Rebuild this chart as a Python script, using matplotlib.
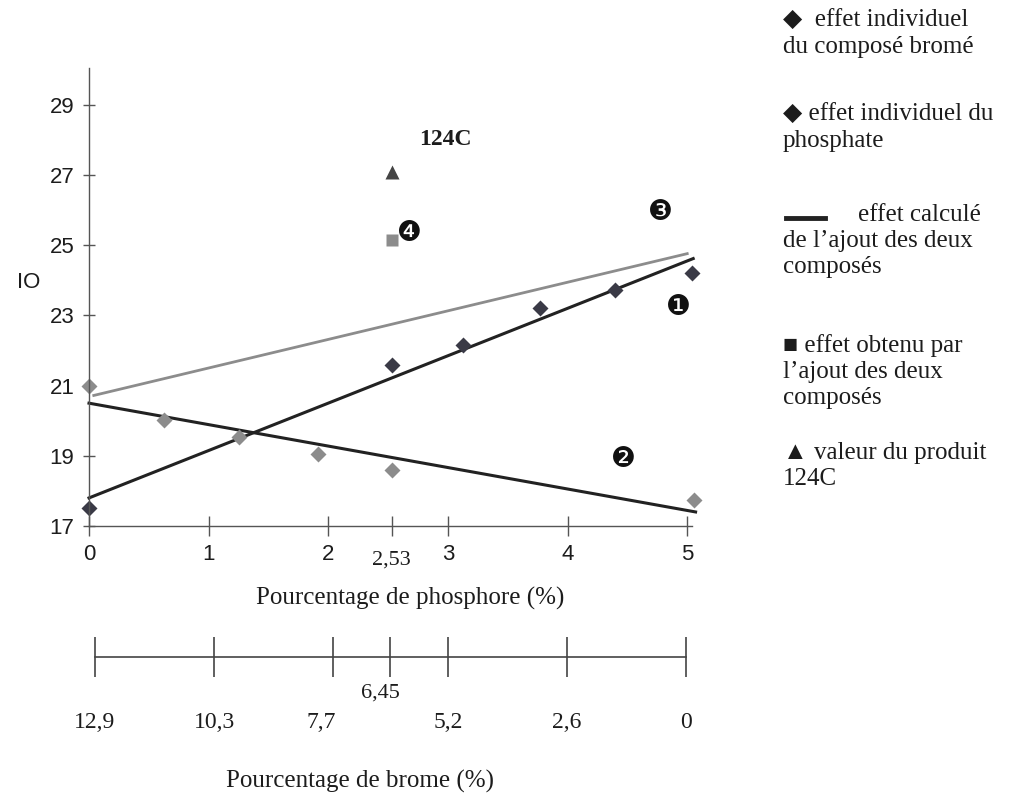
import matplotlib
matplotlib.use('Agg')
import matplotlib.pyplot as plt
from matplotlib.transforms import ScaledTranslation
from matplotlib.lines import Line2D

# effet individuel du compose brome (losanges fonces)
brome_x = [0, 2.53, 3.13, 3.77, 4.4, 5.04]
brome_y = [17.5, 21.6, 22.15, 23.2, 23.72, 24.22]
# effet individuel du phosphate (losanges clairs)
phos_x = [0, 0.63, 1.25, 1.91, 2.53, 5.06]
phos_y = [20.98, 20.03, 19.54, 19.06, 18.6, 17.75]
# droites de tendance
line_up_x = [0, 5.05]
line_up_y = [17.8, 24.62]
line_down_x = [0, 5.07]
line_down_y = [20.5, 17.4]
calc_x = [0.04, 5.0]
calc_y = [20.72, 24.76]
# effet obtenu / produit 124C
obtenu_x = [2.53]
obtenu_y = [25.14]
prod_x = [2.53]
prod_y = [27.1]
# reperes numerotes
num_labels = ['\u2776', '\u2777', '\u2778', '\u2779']
num_x = [4.93, 4.47, 4.78, 2.68]
num_y = [23.24, 18.9, 25.96, 25.34]

xticks = [0, 1, 2, 2.53, 3, 4, 5]
xticklabels = ['0', '1', '2', '2,53', '3', '4', '5']
yticks = [17, 19, 21, 23, 25, 27, 29]
brome_ticks = [12.9, 10.3, 7.7, 6.45, 5.2, 2.6, 0]
brome_labels = ['12,9', '10,3', '7,7', '6,45', '5,2', '2,6', '0']

W, H = 1025, 794
fig = plt.figure(figsize=(W / 100, H / 100), dpi=100)
fig.patch.set_facecolor('white')

sans = ['Liberation Sans', 'DejaVu Sans']
serif = ['Liberation Serif', 'DejaVu Serif', 'DejaVu Sans']
txt = '#1c1c1c'
grey = '#8c8c8c'

x0, x1 = 89, 692
y0, y1 = 526, 68
ax = fig.add_axes([x0 / W, 1 - y0 / H, (x1 - x0) / W, (y0 - y1) / H])
xmax = 5.04
ax.set_xlim(0, xmax)
ax.set_ylim(17, 30.05)
for s in ['top', 'right']:
    ax.spines[s].set_visible(False)
for s in ['left', 'bottom']:
    ax.spines[s].set_color('#555555')
    ax.spines[s].set_linewidth(1.0)

ax.plot(line_up_x, line_up_y, color='#222222', lw=2.2, clip_on=False)
ax.plot(line_down_x, line_down_y, color='#222222', lw=2.2, clip_on=False)
ax.plot(calc_x, calc_y, color=grey, lw=2.0, clip_on=False)

ax.plot(phos_x, phos_y, 'D', color=grey, ms=8.5, mec='none', clip_on=False)
ax.plot(brome_x, brome_y, 'D', color='#3a3a46', ms=8.5, mec='none', clip_on=False)
ax.plot(obtenu_x, obtenu_y, 's', color=grey, ms=9, mec='none', clip_on=False)
ax.plot(prod_x, prod_y, '^', color='#444444', ms=10, mec='none', clip_on=False)

for lab, nx, ny in zip(num_labels, num_x, num_y):
    ax.text(nx, ny, lab, fontsize=20, color='#111111', ha='center', va='center',
            family=['DejaVu Sans'])

ax.text(2.98, 28.0, '124C', fontsize=17, fontweight='bold', family=serif,
        color=txt, ha='center', va='center')

ax.set_xticks(xticks)
ax.set_xticklabels(xticklabels)
ax.set_yticks(yticks)
ax.tick_params(axis='x', direction='inout', length=14, width=1, color='#555555',
               pad=6, labelsize=16)
ax.tick_params(axis='y', direction='inout', length=9, width=1, color='#555555',
               pad=6, labelsize=16)
for lbl in ax.get_xticklabels() + ax.get_yticklabels():
    lbl.set_family(sans)
    lbl.set_color(txt)
l253 = ax.get_xticklabels()[3]
l253.set_family(serif)
l253.set_fontsize(16)
l253.set_transform(l253.get_transform() + ScaledTranslation(0, -0.06, fig.dpi_scale_trans))

fig.text(17 / W, 1 - 282 / H, 'IO', fontsize=16, family=sans, color=txt,
         ha='left', va='center')
fig.text(410 / W, 1 - 598 / H, 'Pourcentage de phosphore (%)', fontsize=18,
         family=serif, color=txt, ha='center', va='center')

# axe secondaire : pourcentage de brome
ax2 = fig.add_axes([x0 / W, 1 - 657 / H, (x1 - x0) / W, 0.0001])
ax2.set_xlim(13.03, -0.13)
for s in ['top', 'right', 'left']:
    ax2.spines[s].set_visible(False)
ax2.spines['bottom'].set_bounds(0, 12.9)
ax2.spines['bottom'].set_color('#444444')
ax2.spines['bottom'].set_linewidth(1.2)
ax2.set_yticks([])
ax2.set_xticks(brome_ticks)
ax2.set_xticklabels(brome_labels)
ax2.tick_params(axis='x', direction='inout', length=29, width=1.2, color='#444444',
                pad=25, labelsize=17)
for lbl in ax2.get_xticklabels():
    lbl.set_family(serif)
    lbl.set_color(txt)
l645 = ax2.get_xticklabels()[3]
l645.set_fontsize(16)
l645.set_transform(l645.get_transform() + ScaledTranslation(-0.1, 0.28, fig.dpi_scale_trans))
l77 = ax2.get_xticklabels()[2]
l77.set_transform(l77.get_transform() + ScaledTranslation(-0.12, 0, fig.dpi_scale_trans))
fig.text(360 / W, 1 - 781 / H, 'Pourcentage de brome (%)', fontsize=18,
         family=serif, color=txt, ha='center', va='center')

# legende
leg_x = 783 / W
kw = dict(fontsize=18, family=serif, color=txt, va='top', linespacing=1.25)
fig.text(leg_x, 1 - 10 / H, '\u25c6  effet individuel\ndu composé bromé', **kw)
fig.text(leg_x, 1 - 104 / H, '\u25c6 effet individuel du\nphosphate', **kw)
fig.text(leg_x, 1 - 204 / H, '            effet calculé\nde l\u2019ajout des deux\ncomposés', **kw)
fig.lines.append(Line2D([786 / W, 825 / W], [1 - 218 / H, 1 - 218 / H],
                        transform=fig.transFigure, color='#222222', lw=3.5))
fig.text(leg_x, 1 - 334 / H, '\u25a0 effet obtenu par\nl\u2019ajout des deux\ncomposés', **kw)
fig.text(leg_x, 1 - 442 / H, '\u25b2 valeur du produit\n124C', **kw)

fig.savefig('out.png', dpi=100, facecolor='white')
